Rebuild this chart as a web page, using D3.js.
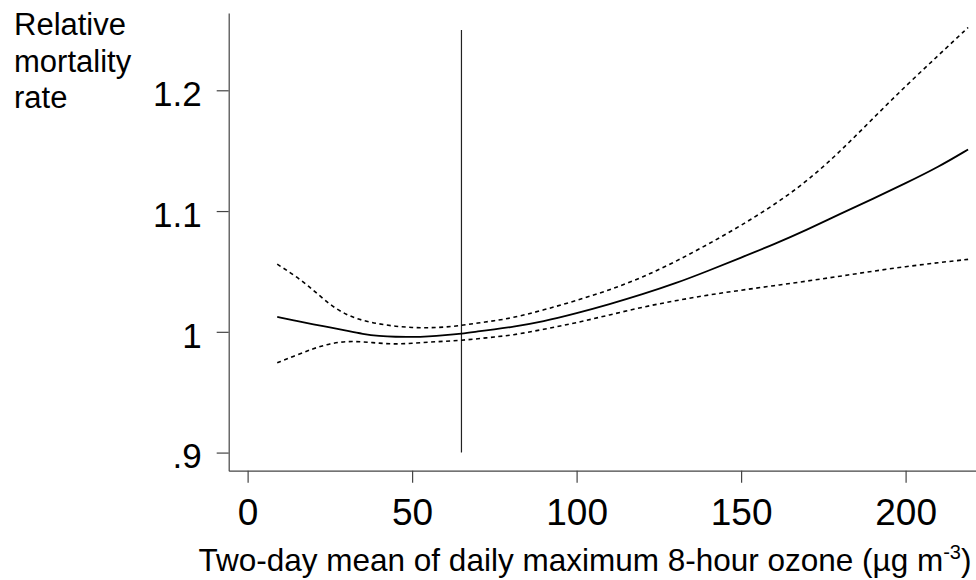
<!DOCTYPE html>
<html>
<head>
<meta charset="utf-8">
<script src="https://cdn.jsdelivr.net/npm/d3@7"></script>
<style>
  body { margin: 0; background: #fff; }
  svg { display: block; font-family: 'Liberation Sans', Arial, sans-serif; }
</style>
</head>
<body>
<svg width="976" height="580"></svg>
<script>
const ozone = [9, 15, 20, 25, 30, 35, 40, 45, 50, 55, 60, 65, 70, 75, 80, 90, 100, 110, 120, 130, 140, 150, 160, 170, 180, 190, 200, 210, 219];
const rate = [1.0124, 1.0090, 1.0062, 1.0037, 1.0010, 0.9982, 0.9965, 0.9958, 0.9957, 0.9962, 0.9972, 0.9985, 1.0003, 1.0020, 1.0038, 1.0085, 1.0153, 1.0228, 1.0310, 1.0400, 1.0505, 1.0615, 1.0725, 1.0845, 1.0975, 1.1100, 1.1230, 1.1365, 1.1510];
const upper = [1.0560, 1.0455, 1.0346, 1.0224, 1.0140, 1.0092, 1.0065, 1.0045, 1.0035, 1.0033, 1.0038, 1.0053, 1.0073, 1.0092, 1.0112, 1.0180, 1.0260, 1.0345, 1.0450, 1.0580, 1.0725, 1.0880, 1.1050, 1.1245, 1.1490, 1.1765, 1.2035, 1.2290, 1.2520];
const lower = [0.9743, 0.9808, 0.9862, 0.9903, 0.9922, 0.9918, 0.9905, 0.9898, 0.9905, 0.9914, 0.9922, 0.9930, 0.9942, 0.9958, 0.9970, 1.0020, 1.0075, 1.0140, 1.0205, 1.0258, 1.0305, 1.0345, 1.0382, 1.0420, 1.0460, 1.0502, 1.0540, 1.0573, 1.0600];
const xTicks = [0, 50, 100, 150, 200];
const yTicks = [0.9, 1, 1.1, 1.2];
const yTickLabels = ['.9', '1', '1.1', '1.2'];
const refOzone = 65;
const refRange = [0.9, 1.25];

const svg = d3.select('svg');

const xScale = d3.scaleLinear()
    .domain([-5.75, 221.4])
    .range([228.7, 976]);

const yScale = d3.scaleLinear()
    .domain([0.885, 1.264])
    .range([470.7, 13]);

const axisColor = '#444';

// y axis
const yAxisG = svg.append('g')
    .attr('transform', `translate(${xScale.range()[0]},0)`)
    .call(d3.axisLeft(yScale)
        .tickValues(yTicks)
        .tickSize(12)
        .tickPadding(15)
        .tickSizeOuter(0)
        .tickFormat((d, i) => yTickLabels[i]));
yAxisG.select('.domain').attr('stroke', axisColor).attr('stroke-width', 1.2);
yAxisG.selectAll('.tick line').attr('stroke', axisColor).attr('stroke-width', 1.2);
yAxisG.selectAll('.tick text')
    .attr('fill', '#000')
    .attr('dy', '0.44em')
    .style('font-size', '35px')
    .style('font-family', "'Liberation Sans', Arial, sans-serif");

// x axis
const xAxisG = svg.append('g')
    .attr('transform', `translate(0,${yScale.range()[0]})`)
    .call(d3.axisBottom(xScale)
        .tickValues(xTicks)
        .tickSize(12)
        .tickPadding(16)
        .tickSizeOuter(0));
xAxisG.select('.domain').attr('stroke', axisColor).attr('stroke-width', 1.2);
xAxisG.selectAll('.tick line').attr('stroke', axisColor).attr('stroke-width', 1.2);
xAxisG.selectAll('.tick text')
    .attr('fill', '#000')
    .attr('dy', '0.71em')
    .style('font-size', '37px')
    .style('font-family', "'Liberation Sans', Arial, sans-serif");

// reference line
svg.append('line')
    .attr('x1', xScale(refOzone))
    .attr('x2', xScale(refOzone))
    .attr('y1', yScale(refRange[0]))
    .attr('y2', yScale(refRange[1]))
    .attr('stroke', '#222')
    .attr('stroke-width', 1.2);

const lineFor = values => d3.line()
    .x((d, i) => xScale(ozone[i]))
    .y((d, i) => yScale(values[i]))
    .curve(d3.curveBasis)(ozone);

svg.append('path')
    .attr('d', lineFor(upper))
    .attr('fill', 'none')
    .attr('stroke', '#000')
    .attr('stroke-width', 1.6)
    .attr('stroke-dasharray', '4 3.5');

svg.append('path')
    .attr('d', lineFor(lower))
    .attr('fill', 'none')
    .attr('stroke', '#000')
    .attr('stroke-width', 1.6)
    .attr('stroke-dasharray', '4 3.5');

svg.append('path')
    .attr('d', lineFor(rate))
    .attr('fill', 'none')
    .attr('stroke', '#000')
    .attr('stroke-width', 1.8);

// y title
const yTitle = svg.append('text')
    .attr('x', 14)
    .attr('y', 35)
    .style('font-size', '31px')
    .attr('fill', '#000');
['Relative', 'mortality', 'rate'].forEach((t, i) => {
    yTitle.append('tspan')
        .attr('x', 14)
        .attr('y', 35 + i * 36.5)
        .text(t);
});

// x title
const xTitle = svg.append('text')
    .attr('x', 585)
    .attr('y', 571)
    .attr('text-anchor', 'middle')
    .style('font-size', '31.5px')
    .attr('fill', '#000');
xTitle.append('tspan').text('Two-day mean of daily maximum 8-hour ozone (µg m');
xTitle.append('tspan').attr('dy', -12).style('font-size', '20px').text('-3');
xTitle.append('tspan').attr('dy', 12).text(')');
</script>
</body>
</html>
